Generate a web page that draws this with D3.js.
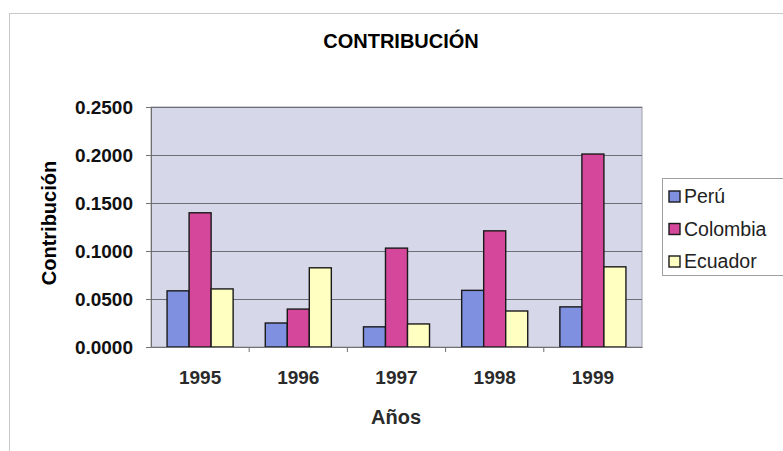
<!DOCTYPE html>
<html>
<head>
<meta charset="utf-8">
<script src="https://cdn.jsdelivr.net/npm/d3@7"></script>
<style>
body { margin: 0; background: #fff; }
text { font-family: Arial, "Liberation Sans", sans-serif; }
</style>
</head>
<body>
<script>
// data
var years = ["1995", "1996", "1997", "1998", "1999"];
var countries = ["Perú", "Colombia", "Ecuador"];
var peru = [0.0585, 0.0250, 0.0210, 0.0590, 0.0418];
var colombia = [0.1398, 0.0395, 0.1030, 0.1210, 0.2010];
var ecuador = [0.0605, 0.0825, 0.0240, 0.0375, 0.0835];
var yTicks = [0, 0.05, 0.1, 0.15, 0.2, 0.25];
var colors = ["#8090e0", "#d4479a", "#ffffc2"];

var series = [peru, colombia, ecuador];

var W = 783, H = 451;
var plot = { left: 151, right: 642, top: 107, bottom: 347 };

var svg = d3.select("body").append("svg")
  .attr("width", W).attr("height", H);

// chart frame
svg.append("rect")
  .attr("x", 9.5).attr("y", 13.5)
  .attr("width", 790).attr("height", 460)
  .attr("fill", "none").attr("stroke", "#c8c8c8");

var x = d3.scaleBand().domain(years).range([plot.left, plot.right]);
var xs = d3.scaleBand().domain(countries).range([0, x.bandwidth()])
  .paddingInner(0).paddingOuter(0.73);
var y = d3.scaleLinear().domain([0, 0.25]).range([plot.bottom, plot.top]);

// plot background
svg.append("rect")
  .attr("x", plot.left).attr("y", plot.top)
  .attr("width", plot.right - plot.left).attr("height", plot.bottom - plot.top)
  .attr("fill", "#d6d7e9").attr("stroke", "#a0a0a8");

// gridlines
svg.selectAll(".grid").data(yTicks.slice(1))
  .enter().append("line")
  .attr("class", "grid")
  .attr("x1", plot.left).attr("x2", plot.right)
  .attr("y1", function(d) { return Math.round(y(d)) + 0.5; })
  .attr("y2", function(d) { return Math.round(y(d)) + 0.5; })
  .attr("stroke", "#6e6e78");

// bars
var groups = svg.selectAll(".year").data(years)
  .enter().append("g")
  .attr("transform", function(d) { return "translate(" + x(d) + ",0)"; });

groups.selectAll("rect")
  .data(function(d, i) {
    return series.map(function(s, j) { return { c: countries[j], v: s[i], k: j }; });
  })
  .enter().append("rect")
  .attr("x", function(d) { return xs(d.c); })
  .attr("y", function(d) { return y(d.v); })
  .attr("width", xs.bandwidth())
  .attr("height", function(d) { return y(0) - y(d.v); })
  .attr("fill", function(d) { return colors[d.k]; })
  .attr("stroke", "#1a1a1a").attr("stroke-width", 1.4);

// y axis
var yAxis = svg.append("g")
  .attr("transform", "translate(" + plot.left + ",0)")
  .call(d3.axisLeft(y).tickValues(yTicks).tickSize(5).tickPadding(13)
    .tickFormat(d3.format(".4f")));
yAxis.select(".domain").attr("stroke", "#707070");
yAxis.selectAll(".tick line").attr("stroke", "#707070");
yAxis.selectAll("text").attr("font-size", 19).attr("font-weight", "bold")
  .attr("fill", "#111");

// x axis
var xAxis = svg.append("g")
  .attr("transform", "translate(0," + plot.bottom + ")")
  .call(d3.axisBottom(x).tickSize(0).tickPadding(24));
xAxis.select(".domain").attr("stroke", "#707070");
xAxis.selectAll("text").attr("font-size", 19).attr("font-weight", "bold")
  .attr("fill", "#2a2a2a");
svg.selectAll(".xtick").data(years.slice(1))
  .enter().append("line")
  .attr("x1", function(d) { return x(d); }).attr("x2", function(d) { return x(d); })
  .attr("y1", plot.bottom).attr("y2", plot.bottom + 5)
  .attr("stroke", "#707070");

// titles
svg.append("text").attr("x", 401).attr("y", 48)
  .attr("text-anchor", "middle").attr("font-size", 20).attr("font-weight", "bold")
  .text("CONTRIBUCIÓN");
svg.append("text").attr("x", 396).attr("y", 424)
  .attr("text-anchor", "middle").attr("font-size", 20).attr("font-weight", "bold")
  .attr("fill", "#2a2a2a").text("Años");
svg.append("text")
  .attr("transform", "translate(56,223) rotate(-90)")
  .attr("text-anchor", "middle").attr("font-size", 20).attr("font-weight", "bold")
  .text("Contribución");

// legend
var lg = svg.append("g").attr("transform", "translate(662,178)");
lg.append("rect").attr("x", 0.5).attr("y", 0.5).attr("width", 130).attr("height", 97)
  .attr("fill", "#fff").attr("stroke", "#a0a0a0");
var items = lg.selectAll(".item").data(countries).enter().append("g")
  .attr("transform", function(d, i) { return "translate(7," + (18 + i * 32.5) + ")"; });
items.append("rect").attr("x", 0).attr("y", -5).attr("width", 11).attr("height", 11)
  .attr("fill", function(d, i) { return colors[i]; })
  .attr("stroke", "#1a1a1a").attr("stroke-width", 1.4);
items.append("text").attr("x", 15).attr("y", 7).attr("font-size", 19.5)
  .attr("fill", "#222").text(function(d) { return d; });
</script>
</body>
</html>
